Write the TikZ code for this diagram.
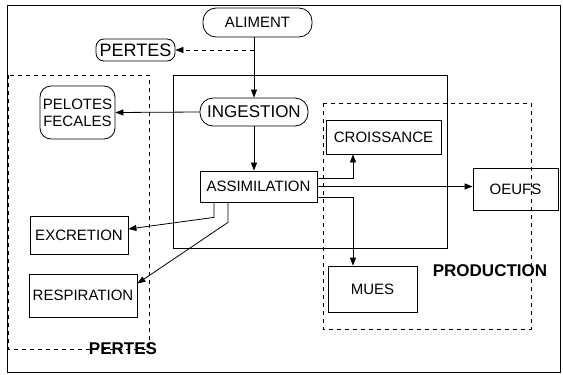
\documentclass[tikz,border=0pt]{standalone}
\usepackage{fontspec}
\setmainfont{Liberation Sans}
\usetikzlibrary{arrows.meta,calc}
\begin{document}
\begin{tikzpicture}[x=1pt,y=-1pt,
  line width=0.8pt,
  lbl/.style={font=\fontsize{15}{17}\selectfont, inner sep=0pt, align=center},
  boxn/.style={lbl, draw, rectangle},
  pill/.style={lbl, draw, rounded corners=#1},
  arr/.style={-{Triangle[length=8pt,width=6pt]}},
  dashbox/.style={dashed, dash pattern=on 4pt off 4pt, line width=0.7pt},
  bigl/.style={font=\bfseries\fontsize{17}{19}\selectfont, inner sep=0pt}
]
\useasboundingbox (0,0) rectangle (563,375);
% frames
\draw (7,5) rectangle (560,372);
\draw (173,75) rectangle (447,248);
\draw[dashbox] (8,75) rectangle (149,349);
\draw[dashbox] (323,103) rectangle (531,329);
\node[bigl] (lpertes) at (123,349) {PERTES};
\node[bigl] (lprod) at (490,271) {PRODUCTION};
% nodes
\node[pill=13pt, minimum width=109pt, minimum height=29pt] (aliment) at (257.5,22.5) {ALIMENT};
\node[pill=8pt, minimum width=79pt, minimum height=22pt, font=\fontsize{18}{20}\selectfont] (pertesT) at (135.5,50) {PERTES};
\node[pill=13pt, minimum width=108pt, minimum height=28pt, font=\fontsize{17}{19}\selectfont] (ingestion) at (254,112) {INGESTION};
\node[pill=11pt, minimum width=75pt, minimum height=53pt] (pelotes) at (77.5,112.5) {PELOTES\\FECALES};
\node[boxn, minimum width=117pt, minimum height=31pt] (assim) at (258.5,186.5) {ASSIMILATION};
\node[boxn, minimum width=115pt, minimum height=34pt] (croiss) at (383.5,137) {CROISSANCE};
\node[boxn, minimum width=85pt, minimum height=42pt] (oeufs) at (515.5,189) {OEUFS};
\node[boxn, minimum width=89pt, minimum height=46pt] (mues) at (372.5,289) {MUES};
\node[boxn, minimum width=98pt, minimum height=38pt] (excr) at (79,235) {EXCRETION};
\node[boxn, minimum width=108pt, minimum height=43pt] (resp) at (83,295.5) {RESPIRATION};
% connectors
\draw[arr] (ingestion.north |- aliment.south) -- (ingestion.north);
\draw[arr, dashed, dash pattern=on 4pt off 4pt] (ingestion.north |- pertesT.east) -- (pertesT.east);
\draw[arr] (ingestion.west) -- (pelotes.east);
\draw[arr] (ingestion.south) -- (ingestion.south |- assim.north);
\draw[arr] ([yshift=8.5pt]assim.east) -| ([xshift=-30.5pt]croiss.south);
\draw[arr] (assim.east) -- (assim.east -| oeufs.west);
\draw[arr] ([yshift=-10.5pt]assim.east) -| ([xshift=-19.5pt]mues.north);
\draw[arr] ([xshift=-44.5pt]assim.south) -- ++(0,15) -- ([yshift=6pt]excr.east);
\draw[arr] ([xshift=-30.5pt]assim.south) -- ++(0,20) -- ([yshift=12pt]resp.east);
\end{tikzpicture}
\end{document}
